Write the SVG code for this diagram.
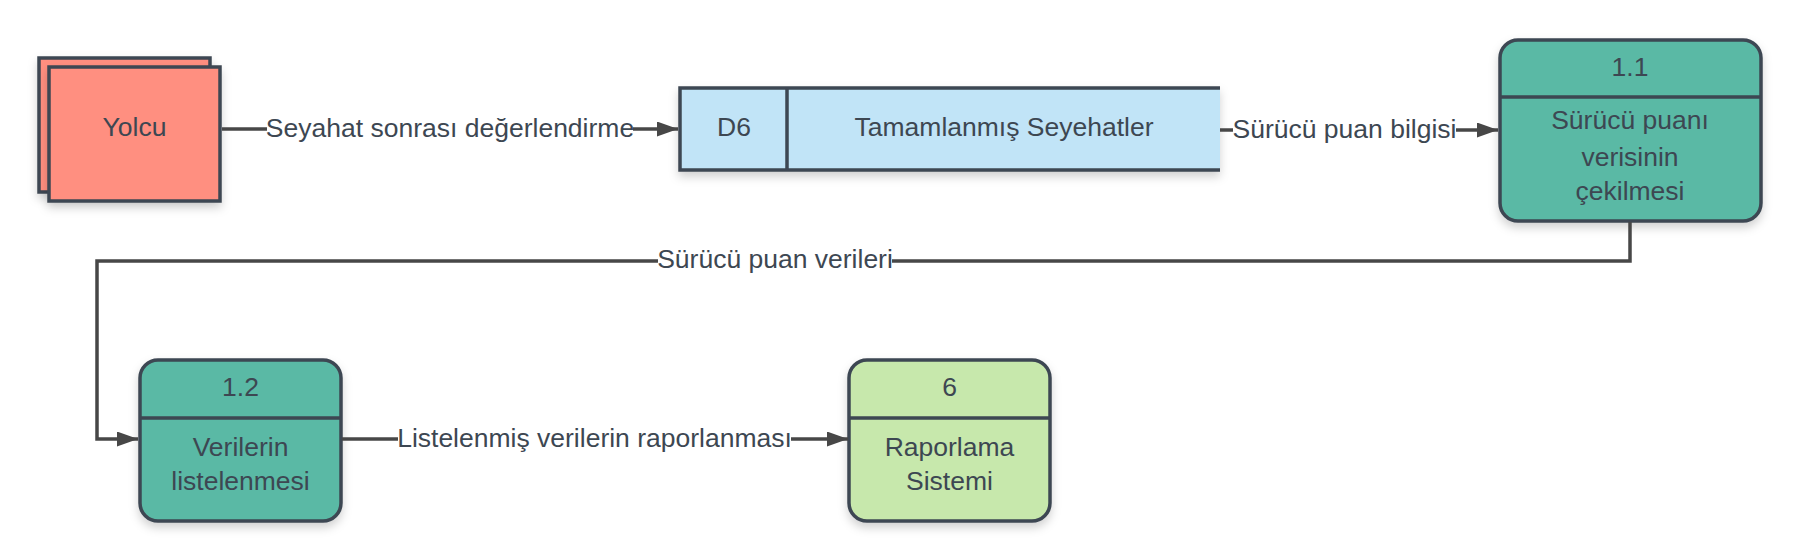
<svg xmlns="http://www.w3.org/2000/svg" width="1800" height="560" viewBox="0 0 1800 560">
<style>
  .t { font-family: "Liberation Sans", Arial, sans-serif; font-size: 26.5px; fill: #3d4752; text-anchor: middle; dominant-baseline: central; }
  .box { stroke: #3d4752; stroke-width: 3.5; }
  .ent { fill: #ff8f80; }
  .store { fill: #c1e4f7; }
  .proc { fill: #5ab9a5; }
  .ext { fill: #c7e8ac; }
  .edge { fill: none; stroke: #474747; stroke-width: 3.5; }
  .lbg { fill: #ffffff; }
</style>
<defs>
  <filter id="sh" x="-20%" y="-20%" width="140%" height="150%">
    <feDropShadow dx="0" dy="5" stdDeviation="5" flood-color="#000" flood-opacity="0.18"/>
  </filter>
  <marker id="arr" markerUnits="userSpaceOnUse" markerWidth="22" markerHeight="16" refX="21" refY="7.5" orient="auto">
    <path d="M0,0 L21,7.5 L0,15 z" fill="#474747"/>
  </marker>
</defs>
<rect width="1800" height="560" fill="#ffffff"/>

<g id="yolcu">
  <rect class="box ent" x="39" y="58" width="171" height="134" filter="url(#sh)"/>
  <rect class="box ent" x="49" y="67" width="171" height="134" filter="url(#sh)"/>
  <text class="t" x="134.5" y="127">Yolcu</text>
</g>

<g id="d6">
  <g filter="url(#sh)">
    <rect class="store" x="680" y="88" width="540" height="82"/>
    <path class="box" fill="none" d="M1220,88 L680,88 L680,170 L1220,170 M787,88 L787,170"/>
  </g>
  <text class="t" x="734" y="127">D6</text>
  <text class="t" x="1004" y="127">Tamamlanmış Seyehatler</text>
</g>

<g id="p11">
  <rect class="box proc" x="1500" y="40" width="261" height="181" rx="18" filter="url(#sh)"/>
  <line class="box" x1="1500" y1="97" x2="1761" y2="97"/>
  <text class="t" x="1630" y="67">1.1</text>
  <text class="t" x="1630" y="120">Sürücü puanı</text>
  <text class="t" x="1630" y="157">verisinin</text>
  <text class="t" x="1630" y="191">çekilmesi</text>
</g>

<g id="p12">
  <rect class="box proc" x="140" y="360" width="201" height="161" rx="18" filter="url(#sh)"/>
  <line class="box" x1="140" y1="418" x2="341" y2="418"/>
  <text class="t" x="240.5" y="387">1.2</text>
  <text class="t" x="240.5" y="447">Verilerin</text>
  <text class="t" x="240.5" y="481">listelenmesi</text>
</g>

<g id="p6">
  <rect class="box ext" x="849" y="360" width="201" height="161" rx="18" filter="url(#sh)"/>
  <line class="box" x1="849" y1="418" x2="1050" y2="418"/>
  <text class="t" x="949.5" y="387">6</text>
  <text class="t" x="949.5" y="447">Raporlama</text>
  <text class="t" x="949.5" y="481">Sistemi</text>
</g>

<g id="connectors">
  <path class="edge" d="M222,129 L678,129" marker-end="url(#arr)"/>
  <rect class="lbg" x="267" y="114" width="366" height="30"/>
  <text class="t" x="450" y="128">Seyahat sonrası değerlendirme</text>

  <path class="edge" d="M1220,130 L1498,130" marker-end="url(#arr)"/>
  <rect class="lbg" x="1233" y="115" width="223" height="30"/>
  <text class="t" x="1344.5" y="129">Sürücü puan bilgisi</text>

  <path class="edge" d="M1630,222 L1630,261 L97,261 L97,439 L138,439" marker-end="url(#arr)"/>
  <rect class="lbg" x="658" y="246" width="234" height="30"/>
  <text class="t" x="775" y="259">Sürücü puan verileri</text>

  <path class="edge" d="M342,439 L848,439" marker-end="url(#arr)"/>
  <rect class="lbg" x="398" y="424" width="393" height="30"/>
  <text class="t" x="594.5" y="438">Listelenmiş verilerin raporlanması</text>
</g>
</svg>
